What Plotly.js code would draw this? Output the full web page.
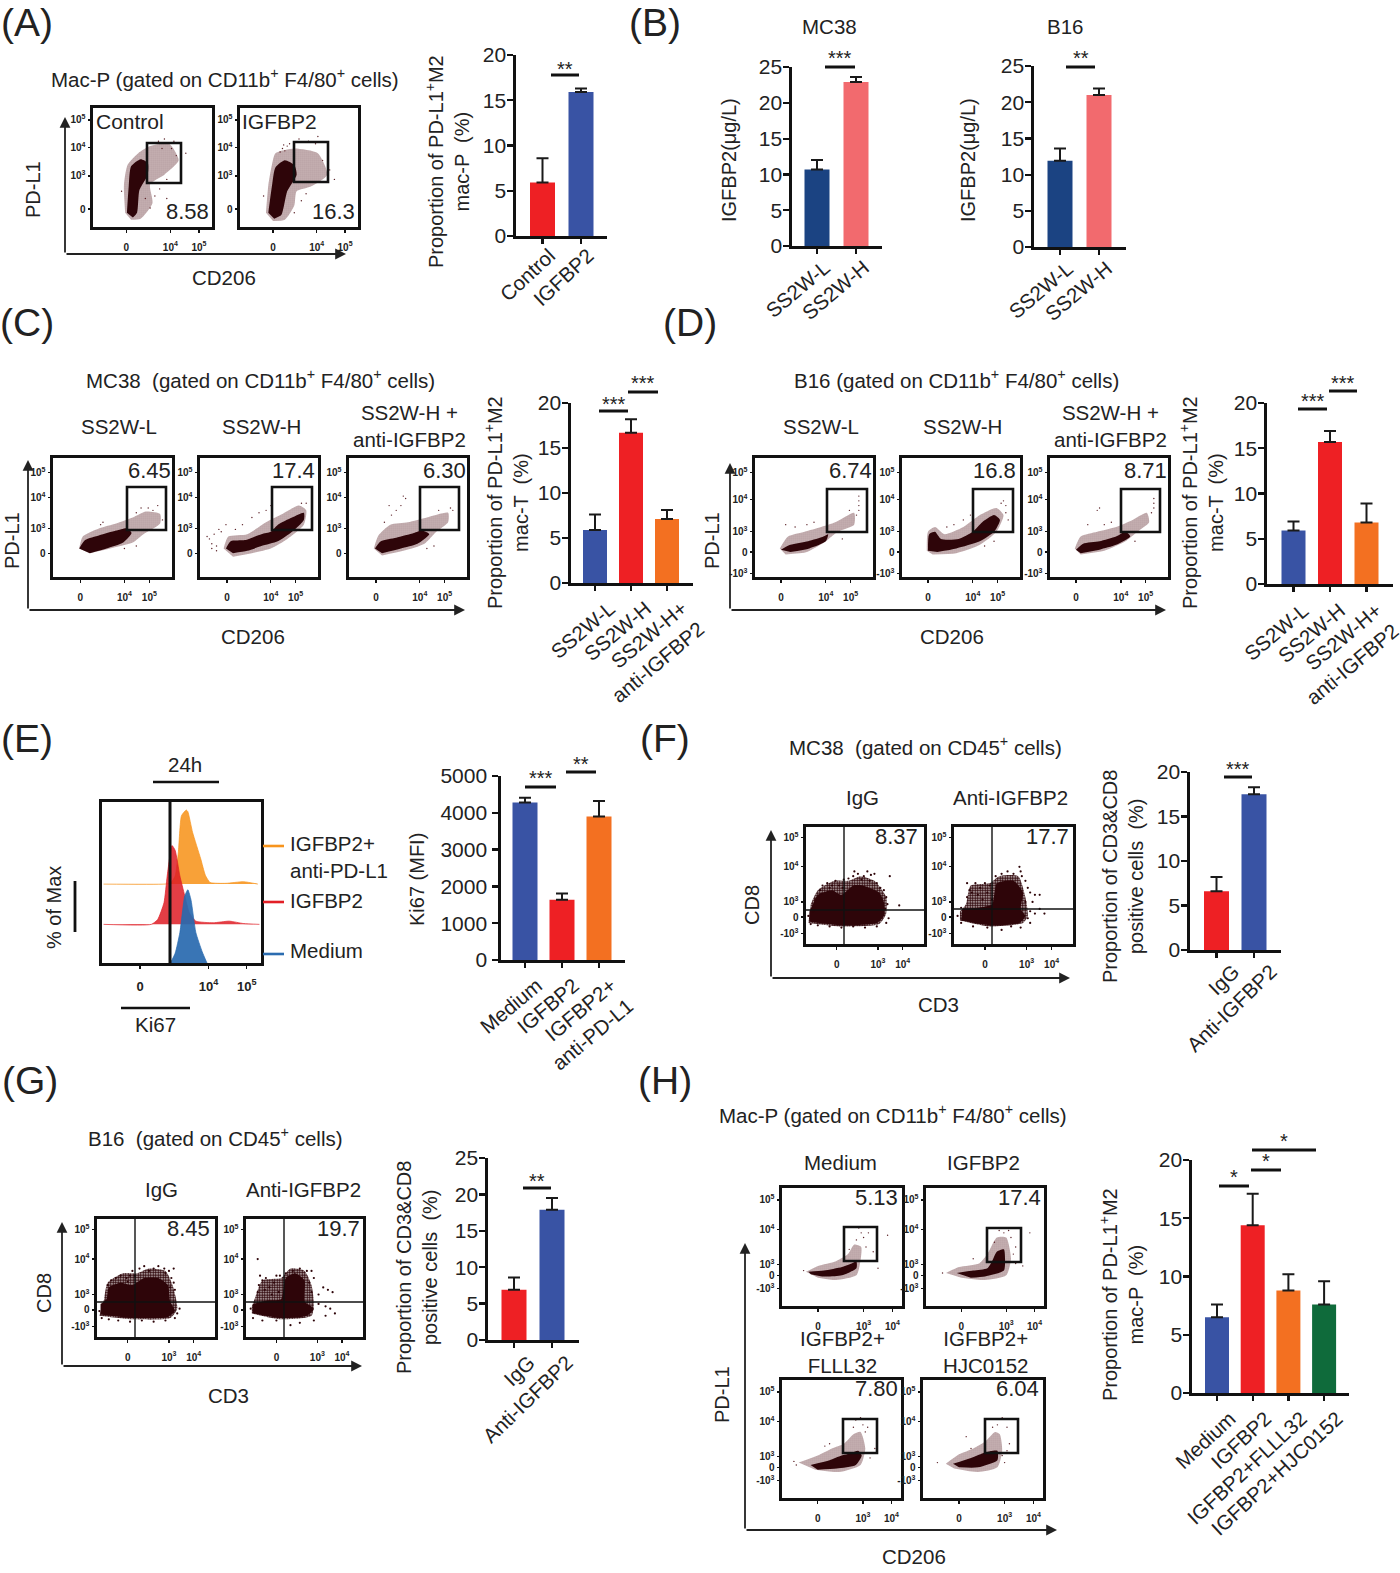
<!DOCTYPE html>
<html><head><meta charset="utf-8">
<script src="https://cdn.plot.ly/plotly-3.0.1.min.js"></script>
<style>html,body{margin:0;padding:0;background:#fff}</style></head>
<body><div id="chart" style="width:1400px;height:1573px"></div>
<script>
// ---------- bar values ----------
const catA=['Control','IGFBP2'], valA=[5.9,15.9], errA=[2.7,0.4];
const catB=['SS2W-L','SS2W-H'], valB1=[10.7,22.9], errB1=[1.3,0.7], valB2=[11.9,21], errB2=[1.7,0.9];
const catC=['SS2W-L','SS2W-H','SS2W-H+<br>anti-IGFBP2'];
const valC=[5.9,16.7,7.1], errC=[1.7,1.5,1.0], valD=[5.9,15.7,6.8], errD=[1.0,1.2,2.1];
const catE=['Medium','IGFBP2','IGFBP2+<br>anti-PD-L1'], valE=[4280,1640,3900], errE=[130,170,420];
const catF=['IgG','Anti-IGFBP2'], valF=[6.6,17.5], errF=[1.6,0.8], valG=[6.9,17.9], errG=[1.7,1.6];
const catH=['Medium','IGFBP2','IGFBP2+FLLL32','IGFBP2+HJC0152'], valH=[6.5,14.4,8.8,7.6], errH=[1.1,2.7,1.4,2.0];
const RED='#ee2024',BLUE='#3953a4',NAVY='#1b4382',PINK='#f26a6e',ORANGE='#f37021',GREEN='#0f6b3b';

// ---------- flow-plot clouds: outlines and stray events, % of each frame ----------
const coreA1=[[28.5,12],[30,34],[32,51],[40,57],[46,54],[46,44],[39,31],[37,12],[33.5,8]];
const haloA1=[[27,12],[26,35],[29,52],[38,62],[48,68],[64,70],[72,56],[60,44],[48,36],[50,20],[40,7],[32,6]];
const dotsA1=[[55,72],[60,74],[66,66],[70,60],[74,50],[62,40],[56,32],[52,26],[48,16],[44,24],[68,72],[58,66],[24,30],[62,24],[78,62]];
const coreA2=[[24,12],[27,34],[30,50],[38,56],[46,52],[48,44],[40,30],[35,10],[29,7]];
const haloA2=[[22,12],[24,35],[27,52],[30,62],[46,66],[66,62],[74,44],[60,34],[48,30],[46,18],[38,6],[28,5]];
const dotsA2=[[36,66],[38,64],[40,68],[34,63],[37,69],[42,70],[50,74],[58,72],[64,70],[70,56],[76,48],[80,40],[56,28],[52,22],[46,12],[20,26],[66,76]];
const coreC1=[[22,24],[27,31],[39,35],[53,39],[62,41],[66,37],[59,29],[45,24],[31,20]];
const haloC1=[[22,24],[25,34],[39,41],[53,45],[67,50],[78,55],[90,53],[90,45],[76,36],[67,29],[48,24],[31,20]];
const dotsC1=[[88,60],[84,56],[80,58],[74,58],[70,54],[92,48],[62,50],[42,46],[40,44],[70,26],[60,24]];
const coreC2=[[22,24],[26,30],[38,31],[52,36],[60,38],[66,44],[78,50],[88,54],[88,48],[78,38],[66,30],[52,26],[40,22],[28,20]];
const haloC2=[[20,24],[24,34],[40,36],[56,46],[68,52],[84,60],[90,56],[88,44],[74,32],[60,24],[44,20],[28,17]];
const dotsC2=[[8,32],[10,28],[6,34],[12,36],[14,26],[16,40],[18,38],[22,44],[30,40],[36,44],[44,50],[50,54],[56,56],[60,60],[14,22],[10,24],[90,62],[86,62]];
const coreC3=[[22,24],[27,30],[40,33],[55,37],[62,39],[68,36],[58,28],[44,24],[28,20]];
const haloC3=[[21,24],[25,35],[35,44],[50,46],[66,50],[84,54],[84,46],[74,38],[64,28],[46,22],[28,18]];
const dotsC3=[[46,68],[48,66],[44,60],[40,56],[36,52],[30,46],[88,56],[86,58],[76,56],[72,26],[66,24],[34,60]];
const coreD1=[[22,23],[30,27],[45,30],[58,34],[62,36],[60,30],[46,24],[30,21]];
const haloD1=[[21,24],[28,34],[42,38],[56,42],[68,46],[84,54],[84,44],[70,38],[60,30],[44,21],[26,19]];
const dotsD1=[[88,68],[88,64],[88,60],[88,56],[86,52],[80,56],[26,44],[34,42],[44,44],[74,32],[50,46]];
const coreD2=[[22,22],[23,36],[28,38],[33,32],[48,32],[60,38],[68,46],[78,52],[83,48],[78,38],[66,30],[46,24],[30,21]];
const haloD2=[[21,22],[22,38],[28,42],[36,36],[52,42],[66,52],[80,58],[86,52],[80,38],[66,27],[46,20],[26,19]];
const dotsD2=[[86,64],[88,60],[88,54],[84,62],[44,44],[38,42],[52,48],[58,52],[70,26],[78,30],[90,48]];
const coreD3=[[22,23],[28,28],[42,30],[56,34],[64,38],[68,34],[56,27],[42,23],[26,20]];
const haloD3=[[21,24],[26,34],[40,38],[56,42],[70,48],[82,54],[84,46],[74,38],[64,30],[46,22],[26,19]];
const dotsD3=[[88,66],[88,62],[88,58],[86,54],[40,56],[42,58],[32,44],[46,44],[52,46],[72,30]];
const coreF1=[[3,19],[30,16],[60,18],[66,24],[66,36],[62,44],[48,50],[40,50],[30,42],[22,46],[10,42],[6,34],[3,28]];
const haloF1=[[2,18],[30,15],[62,17],[68,26],[68,40],[58,54],[46,58],[36,54],[24,54],[10,46],[4,34]];
const dotsF1=[[12,46],[14,50],[18,52],[22,50],[13,43],[20,48],[25,54],[28,50],[31,48],[32,55],[36,56],[40,58],[44,60],[49,58],[52,62],[55,59],[58,60],[41,62],[47,55],[54,54],[60,52],[63,48],[66,46],[68,40],[69,34],[67,30],[71,58],[79,33],[8,38],[6,28],[2,24],[70,22],[68,18],[60,15],[50,14],[40,15],[30,14],[20,15],[10,16],[4,17]];
const coreF2=[[6,20],[30,16],[55,18],[60,24],[56,30],[58,44],[50,54],[36,52],[32,34],[20,31],[7,30]];
const haloF2=[[5,20],[30,15],[58,18],[62,24],[60,40],[54,58],[38,58],[30,52],[14,50],[10,34],[5,28]];
const dotsF2=[[11,52],[13,46],[11,40],[15,44],[18,52],[20,42],[22,48],[24,38],[26,52],[28,44],[30,50],[32,38],[35,58],[40,60],[45,62],[50,60],[56,62],[57,58],[60,54],[55,66],[62,48],[64,44],[68,42],[66,36],[72,42],[60,36],[64,28],[68,26],[62,22],[72,30],[76,26],[64,18],[56,14],[48,15],[40,12],[28,14],[16,15],[6,18],[3,24],[6,31]];
const coreG1=[[3,19],[30,16],[60,17],[66,22],[62,30],[60,44],[52,50],[40,50],[30,44],[20,46],[10,42],[8,32],[3,28]];
const haloG1=[[2,18],[30,15],[62,16],[68,24],[64,44],[58,56],[44,58],[34,54],[22,54],[9,46],[6,32]];
const dotsG1=[[9,44],[12,48],[16,50],[20,52],[25,50],[13,42],[28,52],[30,56],[32,52],[36,58],[40,60],[44,56],[48,58],[52,60],[57,58],[61,56],[65,58],[58,54],[63,50],[65,46],[62,42],[66,40],[58,36],[68,20],[70,24],[66,16],[58,14],[48,13],[38,14],[28,13],[18,14],[10,15],[4,16],[2,22],[26,47]];
const coreG2=[[6,20],[30,16],[52,18],[58,24],[50,30],[50,48],[42,54],[34,50],[30,32],[18,31],[6,28]];
const haloG2=[[5,20],[30,15],[56,18],[58,28],[56,44],[50,56],[38,58],[30,50],[14,48],[8,34],[5,26]];
const dotsG2=[[12,52],[11,44],[14,48],[17,50],[10,38],[20,42],[22,36],[24,46],[26,52],[16,40],[28,38],[29,52],[34,54],[40,56],[46,58],[52,56],[56,56],[58,50],[10,66],[54,46],[56,38],[62,36],[66,42],[70,40],[74,38],[62,28],[68,26],[72,24],[76,20],[68,18],[58,14],[46,12],[38,10],[26,14],[14,14],[4,24],[6,16]];
const coreH1=[[22,29],[35,30],[50,33],[58,36],[62,38],[62,32],[50,26],[35,25],[24,27]];
const haloH1=[[20,29],[30,34],[45,38],[55,44],[60,52],[66,50],[65,36],[62,26],[45,22],[30,24]];
const dotsH1=[[66,62],[68,58],[62,56],[70,50],[76,46],[64,66],[72,62],[88,60],[80,32],[18,30],[56,48]];
const coreH2=[[26,28],[40,30],[52,32],[56,38],[60,46],[66,48],[67,40],[66,30],[50,25],[38,24]];
const haloH2=[[17,28],[28,33],[45,36],[52,44],[60,58],[68,58],[72,40],[68,26],[50,22],[30,24]];
const dotsH2=[[66,62],[70,64],[72,58],[76,50],[74,44],[62,64],[76,36],[82,34],[88,62],[58,54],[14,28],[40,40]];
const coreH3=[[24,28],[40,32],[50,36],[58,38],[64,40],[67,36],[62,28],[46,25],[30,24]];
const haloH3=[[14,30],[30,36],[42,42],[52,46],[60,54],[66,56],[70,42],[66,28],[48,22],[28,24]];
const dotsH3=[[66,68],[62,66],[68,62],[72,60],[60,60],[10,31],[12,28],[74,34],[78,42],[40,46],[36,44],[70,56]];
const coreH4=[[25,29],[40,34],[50,38],[58,40],[62,40],[62,32],[46,26],[30,26]];
const haloH4=[[19,29],[30,37],[42,42],[52,48],[60,56],[64,54],[66,40],[62,26],[46,22],[26,25]];
const dotsH4=[[66,68],[62,62],[58,60],[70,60],[72,46],[70,40],[36,52],[12,30],[68,30],[40,42],[66,36]];
// ---------- histogram outlines of panel E, % of frame ----------
const histOrangeX=[1,39,43,46,48,50,53,54,57,62,65,68,78,89,98], histOrangeY=[49,49,49.5,54,68.5,91.5,95,94,81,65,54.5,50,49.5,50.5,49];
const histRedX=[1,31,35,39,41,44,46,49,52,55,59,70,80,89,99], histRedY=[24,24,27,37.5,54,73,70,54,42,31,26,25,26,24.5,24];
const histBlueX=[43,46,49,52,54,56,59,63,66], histBlueY=[0,6,19,41.5,45.5,39,19,7,0];

const tk=(n)=>'10<sup>'+n+'</sup>';
const ticksStd={xv:[23,60,81],xt:['0',tk(4),tk(5)],yv:[88,67,41,20],yt:[tk(5),tk(4),tk(3),'0']};
const ticksA={xv:[28,65,89],xt:['0',tk(4),tk(5)],yv:[90,67,43,15],yt:[tk(5),tk(4),tk(3),'0']};
const ticksD={xv:[22,60,81],xt:['0',tk(4),tk(5)],yv:[88,65,38,21,3],yt:[tk(5),tk(4),tk(3),'0','-'+tk(3)]};
const ticksF={xv:[26,61,82],xt:['0',tk(3),tk(4)],yv:[91,66,36,23,9],yt:[tk(5),tk(4),tk(3),'0','-'+tk(3)]};
const ticksH={xv:[30,68,92],xt:['0',tk(3),tk(4)],yv:[90,65,35,26,15],yt:[tk(5),tk(4),tk(3),'0','-'+tk(3)]};

const W=1400,H=1573, X=p=>p/W, Y=p=>1-p/H;
const FONT='"Liberation Sans", Arial, sans-serif';
let traces=[],layout={width:W,height:H,margin:{l:0,r:0,t:0,b:0},paper_bgcolor:'#fff',plot_bgcolor:'rgba(0,0,0,0)',
  showlegend:false,font:{family:FONT,color:'#222'},annotations:[],shapes:[],hovermode:false};
let axN=0;
function newAxes(x0,y0,x1,y1,xo,yo){
  axN++; const s=axN===1?'':axN;
  layout['xaxis'+s]=Object.assign({domain:[X(x0),X(x1)],anchor:'y'+s,zeroline:false,showgrid:false},xo);
  layout['yaxis'+s]=Object.assign({domain:[Y(y1),Y(y0)],anchor:'x'+s,zeroline:false,showgrid:false},yo);
  return {x:'x'+s,y:'y'+s};
}
function text(t,x,y,size,o){
  const dy=(t.includes('<sup')||(o&&o.textangle))?0:2.5;
  const dx=(o&&o.xanchor==='right')?4:(o&&o.xanchor==='left')?-3:0;
  layout.annotations.push(Object.assign({text:t,x:X(x+dx),y:Y(y+dy),xref:'paper',yref:'paper',showarrow:false,
  xanchor:'center',yanchor:'middle',font:{size:size,family:FONT,color:'#222'}},o||{}));}
function line(x0,y0,x1,y1,w,c){layout.shapes.push({type:'line',xref:'paper',yref:'paper',x0:X(x0),y0:Y(y0),x1:X(x1),y1:Y(y1),layer:'above',line:{width:w,color:c||'#111'}});}
function rect(a){layout.shapes.push({type:'rect',xref:'paper',yref:'paper',x0:X(a[0]),x1:X(a[1]),y0:Y(a[2]),y1:Y(a[3]),layer:'above',line:{width:2.6,color:'#111'},fillcolor:'rgba(0,0,0,0)'});}
function arrow(x0,y0,x1,y1){layout.annotations.push({text:'',x:X(x1),y:Y(y1),xref:'paper',yref:'paper',axref:'pixel',ayref:'pixel',ax:x0-x1,ay:y0-y1,
  showarrow:true,arrowhead:2,arrowsize:1.2,arrowwidth:1.8,arrowcolor:'#222',standoff:0,startstandoff:0});}
function lAxes(x,ytop,ybot,xr){arrow(x,ybot,x,ytop);arrow(x,ybot,xr,ybot);}
function rot(t,x,y,size){text(t,x,y,size||20,{textangle:-90});}

// px = [axis x, top y, right x, zero y]; c0 = first bar centre, step = bar spacing, bw = bar width, all in pixels of the page
// tl = [tick-label shift along x, tick-label standoff along x, tick-label standoff along y, tick angle]
function bars(px,yMax,dt,cats,vals,errs,cols,c0,step,bw,tl){
  const a=newAxes(px[0],px[1],px[2],px[3],
    {type:'category',categories:cats,categoryorder:'array',categoryarray:cats,range:[-(c0-px[0])/step,(px[2]-c0)/step],showline:true,linewidth:2.7,linecolor:'#111',ticks:'outside',ticklen:5,tickwidth:2.2,tickcolor:'#111',tickangle:tl[3],ticklabelshift:tl[0],ticklabelstandoff:tl[1],tickfont:{size:20.5,family:FONT,color:'#222'}},
    {range:[0,yMax],dtick:dt,tick0:0,showline:true,linewidth:2.7,linecolor:'#111',ticks:'outside',ticklen:6,tickwidth:2.2,tickcolor:'#111',ticklabelstandoff:tl[2],tickfont:{size:21,family:FONT,color:'#222'}});
  traces.push({type:'bar',x:cats,y:vals,xaxis:a.x,yaxis:a.y,width:(bw||25)/step,marker:{color:cols},hoverinfo:'skip',
    error_y:{type:'data',array:errs,arrayminus:errs.map(()=>0),symmetric:false,color:'#1a1a1a',thickness:2,width:6}});
}
function sig(x0,x1,y,stars,sy){line(x0,y,x1,y,3);text(stars,(x0+x1)/2,sy,20);}

function flow(box,t,core,halo,dots,dsize){
  const ax={range:[0,100],showline:true,mirror:true,linewidth:3,linecolor:'#111',ticks:'outside',ticklen:2.5,tickwidth:1.4,tickcolor:'#111',
    tickmode:'array',tickfont:{size:10,family:FONT,color:'#222',weight:700}};
  const a=newAxes(box[0],box[1],box[2],box[3],
    Object.assign({},ax,{tickvals:t.xv,ticktext:t.xt,ticklabelstandoff:6}),
    Object.assign({},ax,{tickvals:t.yv,ticktext:t.yt,ticklabelstandoff:0}));
  const dense=dsize>1.5;
  if(halo)traces.push({type:'scatter',mode:'lines',x:halo.map(p=>p[0]),y:halo.map(p=>p[1]),xaxis:a.x,yaxis:a.y,fill:'toself',
    fillcolor:'rgba(0,0,0,0)',fillpattern:{shape:'.',size:dense?2.5:2,solidity:dense?.75:.4,fgcolor:dense?'#2e0509':'#5a2026',bgcolor:'rgba(0,0,0,0)'},
    line:{width:0,shape:'spline',smoothing:.6,color:'rgba(0,0,0,0)'},hoverinfo:'skip'});
  if(core)traces.push({type:'scatter',mode:'lines',x:core.map(p=>p[0]),y:core.map(p=>p[1]),xaxis:a.x,yaxis:a.y,fill:'toself',
    fillcolor:'#2e0509',line:{width:0,shape:'spline',smoothing:.6,color:'rgba(0,0,0,0)'},hoverinfo:'skip'});
  if(dots)traces.push({type:'scatter',mode:'markers',x:dots.map(p=>p[0]),y:dots.map(p=>p[1]),xaxis:a.x,yaxis:a.y,
    marker:{size:dsize||1.4,color:dense?'#2e0509':'#5a2026'},hoverinfo:'skip'});
  return a;
}
const sup=s=>'<sup style="font-size:60%">'+s+'</sup>';
const gatedMac=CD=>CD+' (gated on CD11b'+sup('+')+' F4/80'+sup('+')+' cells)';

// ---- panel letters
[['(A)',27,20],['(B)',655,20],['(C)',27,320],['(D)',690,320],['(E)',27,736],['(F)',665,736],['(G)',30,1078],['(H)',665,1078]].forEach(l=>text(l[0],l[1],l[2],39));

// ---- A
text(gatedMac('Mac-P'),225,78,20.5);
flow([93,108,212,227],ticksA,coreA1,haloA1,dotsA1);flow([240,108,358,227],ticksA,coreA2,haloA2,dotsA2);
rect([147,181,143,183]);rect([294,328,142,182]);
text('Control',97,119,21,{xanchor:'left'});text('IGFBP2',243,119,21,{xanchor:'left'});
text('8.58',207,209,22,{xanchor:'right'});text('16.3',353,209,22,{xanchor:'right'});
lAxes(65,117,254,346);rot('PD-L1',33,190);text('CD206',224,275,20.5);
bars([516,55,607,236],20,5,catA,valA,errA,[RED,BLUE],542.5,38.5,25,[7,-8,-3,-43]);
rot('Proportion of PD-L1'+sup('+')+'M2<br>mac-P  (%)',448,162);sig(551,579,75,'**',66);

// ---- B
text('MC38',829,24,20.5);text('B16',1065,24,20.5);
bars([792,67,882,246],25,5,catB,valB1,errB1,[NAVY,PINK],817,39,25,[8,-6,-3,-40]);
bars([1034,66,1126,247],25,5,catB,valB2,errB2,[NAVY,PINK],1060,39,25,[8,-6,-3,-40]);
rot('IGFBP2(μg/L)',729,160);rot('IGFBP2(μg/L)',968,160);
sig(825,855,67,'***',56);sig(1066,1095,67,'**',56);

// ---- C
text('MC38  (gated on CD11b'+sup('+')+' F4/80'+sup('+')+' cells)',260,379,20.5);
[['SS2W-L',119],['SS2W-H',261],['SS2W-H +<br>anti-IGFBP2',409]].forEach(s=>text(s[0],s[1],s[1]>400?423:424,20.5));
flow([53,458,172,577],ticksStd,coreC1,haloC1,dotsC1);flow([200,458,318,577],ticksStd,coreC2,haloC2,dotsC2);flow([349,458,467,577],ticksStd,coreC3,haloC3,dotsC3);
rect([127,166,487,530]);rect([272,312,487,530]);rect([420,459,487,530]);
[['6.45',169],['17.4',313],['6.30',464]].forEach(s=>text(s[0],s[1],468,22,{xanchor:'right'}));
lAxes(28,460,610,465);rot('PD-L1',12,541);text('CD206',253,634,20.5);
bars([571,403,693,583],20,5,catC,valC,errC,[BLUE,RED,ORANGE],595,36,24,[15,-2,-3,-40]);
rot('Proportion of PD-L1'+sup('+')+'M2<br>mac-T  (%)',506,503);sig(599,628,411,'***',401);sig(628,658,392,'***',381);

// ---- D
text('B16 (gated on CD11b'+sup('+')+' F4/80'+sup('+')+' cells)',956,379,20.5);
[['SS2W-L',821],['SS2W-H',962],['SS2W-H +<br>anti-IGFBP2',1110]].forEach(s=>text(s[0],s[1],s[1]>1000?423:424,20.5));
flow([755,458,873,577],ticksD,coreD1,haloD1,dotsD1);flow([902,458,1020,577],ticksD,coreD2,haloD2,dotsD2);flow([1050,458,1168,577],ticksD,coreD3,haloD3,dotsD3);
rect([827,867,489,532]);rect([973,1013,489,532]);rect([1121,1160,489,532]);
[['6.74',870],['16.8',1014],['8.71',1165]].forEach(s=>text(s[0],s[1],468,22,{xanchor:'right'}));
lAxes(730,463,610,1166);rot('PD-L1',712,541);text('CD206',952,634,20.5);
bars([1267,403,1393,584],20,5,catC,valD,errD,[BLUE,RED,ORANGE],1293.5,36.5,24,[10,-1,-3,-40]);
rot('Proportion of PD-L1'+sup('+')+'M2<br>mac-T  (%)',1201,503);sig(1298,1327,409,'***',399);sig(1329,1357,391,'***',380);

// ---- E
const axE={range:[0,100],showline:true,mirror:true,linewidth:3,linecolor:'#111',tickfont:{size:13,family:FONT,color:'#222',weight:700}};
const ae=newAxes(102,802,261,963,Object.assign({},axE,{tickmode:'array',tickvals:[24,67,91],ticktext:['0',tk(4),tk(5)],ticks:'outside',ticklen:3,tickwidth:1.4,tickcolor:'#111',ticklabelstandoff:6}),Object.assign({},axE,{showticklabels:false}));
[[histOrangeX,histOrangeY,'rgba(247,148,29,.88)'],[histRedX,histRedY,'rgba(222,28,36,.85)'],[histBlueX,histBlueY,'rgba(40,105,175,.92)']].forEach(h=>{
  traces.push({type:'scatter',mode:'lines',x:h[0],y:h[1],xaxis:ae.x,yaxis:ae.y,fill:'toself',fillcolor:h[2],line:{width:.8,color:h[2],shape:'spline',smoothing:.5},hoverinfo:'skip'});
});
line(170,802,170,963,3);
text('24h',185,762,20.5);line(153,782,219,782,2.6);rot('% of Max',54,908);line(75,881,75,932,2.8);
line(121,1008,190,1008,2.6);text('Ki67',155,1022,20.5);
line(263,846,284,846,2.6,'#f7941d');line(263,902,284,902,2.6,'#e21f26');line(263,954,284,954,2.6,'#2b6cb0');
text('IGFBP2+<br>anti-PD-L1',291,854,20.5,{xanchor:'left',align:'left'});text('IGFBP2',291,898,20.5,{xanchor:'left'});text('Medium',291,948,20.5,{xanchor:'left'});
bars([501,776,625,960],5000,1000,catE,valE,errE,[BLUE,RED,ORANGE],525,37,25,[12,-2,1,-40]);
rot('Ki67 (MFI)',417,880);sig(525,556,787,'***',775);sig(566,596,772,'**',761);

// ---- F
text('MC38  (gated on CD45'+sup('+')+' cells)',925,746,20.5);text('IgG',862,795,20.5);text('Anti-IGFBP2',1010,795,20.5);
flow([806,827,924,944],ticksF,coreF1,haloF1,dotsF1,2.2);flow([954,827,1073,944],ticksF,coreF2,haloF2,dotsF2,2.2);
line(844,827,844,944,1.4);line(806,910,924,910,1.4);line(992,827,992,944,1.4);line(954,909,1073,909,1.4);
text('8.37',916,834,22,{xanchor:'right'});text('17.7',1067,834,22,{xanchor:'right'});
lAxes(771,830,978,1070);rot('CD8',752,905);text('CD3',938,1002,20.5);
bars([1190,772,1281,950],20,5,catF,valF,errF,[RED,BLUE],1216.5,37.5,25,[17,-6,-3,-44]);
rot('Proportion of CD3&CD8<br>positive cells  (%)',1123,877);sig(1224,1252,777,'***',766);

// ---- G
text('B16  (gated on CD45'+sup('+')+' cells)',215,1137,20.5);text('IgG',161,1187,20.5);text('Anti-IGFBP2',303,1187,20.5);
flow([97,1219,215,1337],ticksF,coreG1,haloG1,dotsG1,2.2);flow([246,1219,363,1337],ticksF,coreG2,haloG2,dotsG2,2.2);
line(135,1219,135,1337,1.4);line(97,1302,215,1302,1.4);line(284,1219,284,1337,1.4);line(246,1302,363,1302,1.4);
text('8.45',208,1226,22,{xanchor:'right'});text('19.7',358,1226,22,{xanchor:'right'});
lAxes(62,1222,1366,362);rot('CD8',44,1293);text('CD3',228,1393,20.5);
bars([488,1158,579,1340],25,5,catF,valG,errG,[RED,BLUE],514,38,25,[15,-5,-3,-44]);
rot('Proportion of CD3&CD8<br>positive cells  (%)',417,1268);sig(523,551,1188,'**',1178);

// ---- H
text(gatedMac('Mac-P'),893,1114,20.5);text('Medium',840,1160,20.5);text('IGFBP2',983,1160,20.5);
text('IGFBP2+<br>FLLL32',842,1349,20.5);text('IGFBP2+<br>HJC0152',985,1349,20.5);
flow([782,1188,902,1306],ticksH,coreH1,haloH1,dotsH1);flow([926,1188,1044,1306],ticksH,coreH2,haloH2,dotsH2);
flow([782,1380,901,1498],ticksH,coreH3,haloH3,dotsH3);flow([923,1380,1043,1498],ticksH,coreH4,haloH4,dotsH4);
rect([844,877,1227,1261]);rect([987,1021,1228,1262]);rect([843,877,1419,1453]);rect([985,1018,1419,1453]);
text('5.13',896,1195,22,{xanchor:'right'});text('17.4',1039,1195,22,{xanchor:'right'});text('7.80',896,1386,22,{xanchor:'right'});text('6.04',1037,1386,22,{xanchor:'right'});
lAxes(745,1243,1530,1057);rot('PD-L1',722,1395);text('CD206',914,1554,20.5);
bars([1192,1160,1349,1393],20,5,catH,valH,errH,[BLUE,RED,ORANGE,GREEN],1217,35.7,24,[13,-2,-3,-43]);
rot('Proportion of PD-L1'+sup('+')+'M2<br>mac-P  (%)',1121,1295);
sig(1219,1249,1186,'*',1174);sig(1251,1281,1170,'*',1158);sig(1252,1316,1150,'*',1138);

Plotly.newPlot('chart',traces,layout,{displayModeBar:false,staticPlot:true});
</script></body></html>
